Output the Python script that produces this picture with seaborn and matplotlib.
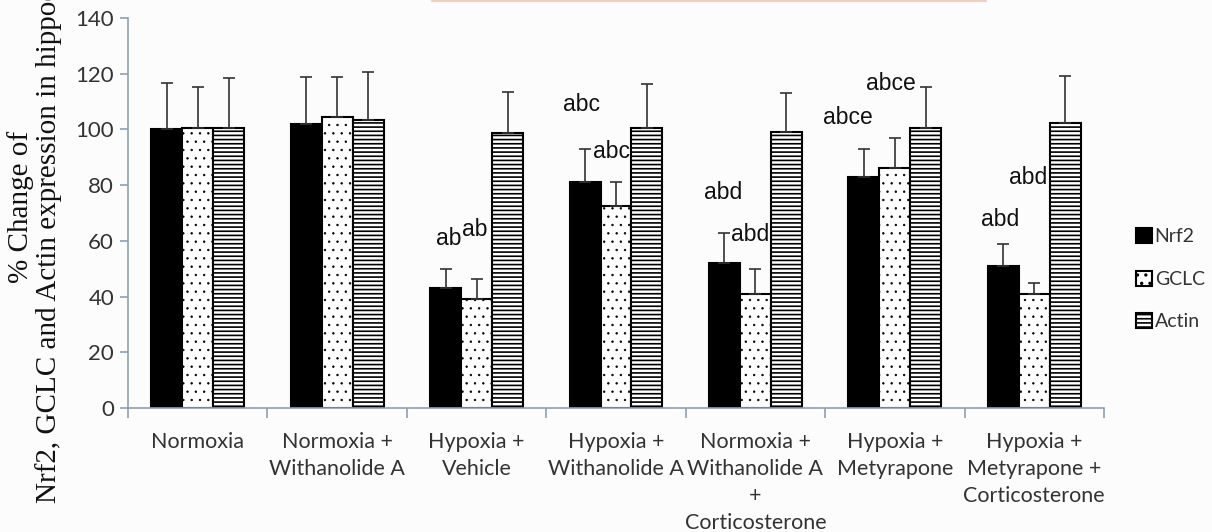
import numpy as np
import pandas as pd
import matplotlib
matplotlib.use('Agg')
import matplotlib.pyplot as plt
from matplotlib.lines import Line2D
import seaborn as sns

# ── data ─────────────────────────────────────────────────────
groups = ["Normoxia",
          "Normoxia +\nWithanolide A",
          "Hypoxia +\nVehicle",
          "Hypoxia +\nWithanolide A",
          "Normoxia +\nWithanolide A\n+\nCorticosterone",
          "Hypoxia +\nMetyrapone",
          "Hypoxia +\nMetyrapone +\nCorticosterone"]
markers = ["Nrf2", "GCLC", "Actin"]

nrf2 = [100, 102, 43, 81, 52, 83, 51]
nrf2_err = [16.5, 17, 7, 12, 11, 10, 8]
gclc = [100.4, 104.5, 39, 72.5, 41, 86, 41]
gclc_err = [14.7, 14.5, 7.3, 8.5, 9, 11, 4]
actin = [100.4, 103.4, 98.6, 100.4, 99.2, 100.6, 102.4]
actin_err = [18, 17.2, 14.7, 16, 14, 14.5, 16.8]

# significance letters: text, group, offset from group centre, y
sig_labels = [("ab", 2, -0.20, 61), ("ab", 2, -0.01, 64),
              ("abc", 3, -0.25, 109), ("abc", 3, -0.035, 92),
              ("abd", 4, -0.23, 77.4), ("abd", 4, -0.04, 62.3),
              ("abce", 5, -0.34, 104.3), ("abce", 5, -0.03, 116.5),
              ("abd", 6, -0.245, 67.5), ("abd", 6, -0.045, 82.7)]

values = {"Nrf2": nrf2, "GCLC": gclc, "Actin": actin}
errors = {"Nrf2": nrf2_err, "GCLC": gclc_err, "Actin": actin_err}

df = pd.DataFrame([{"group": g, "marker": m, "value": values[m][i]}
                   for m in markers for i, g in enumerate(groups)])

# ── style ────────────────────────────────────────────────────
sns.set_style("white")
plt.rcParams['font.family'] = ['Lato', 'DejaVu Sans']
plt.rcParams['hatch.linewidth'] = 1.2

axis_col = '#8fa0b0'
text_col = '#333333'

fig = plt.figure(figsize=(12.12, 5.32), dpi=100)
fig.patch.set_facecolor('#fcfcfd')
ax = fig.add_axes([128 / 1212, 1 - 408 / 532, 976 / 1212, 390 / 532])
ax.set_facecolor('#fcfcfd')

sns.barplot(data=df, x="group", y="value", hue="marker", order=groups,
            hue_order=markers, palette=['black', 'white', 'white'],
            width=0.667, gap=0, errorbar=None, edgecolor='black',
            linewidth=1.5, saturation=1, legend=False, ax=ax)

hatches = [None, '..', '----']
hatch_lw = [1.0, 0.5, 1.2]
for cont, h, m, hw in zip(ax.containers, hatches, markers, hatch_lw):
    xs, ys = [], []
    for p in cont.patches:
        if h:
            p.set_hatch(h)
            if hasattr(p, 'set_hatch_linewidth'):
                p.set_hatch_linewidth(hw)
        xs.append(p.get_x() + p.get_width() / 2)
        ys.append(p.get_height())
    err = np.array(errors[m])
    ax.errorbar(xs, ys, yerr=[np.zeros_like(err), err], fmt='none',
                ecolor='#333333', elinewidth=1.2, capsize=4, capthick=1.2,
                zorder=1)

for txt, gi, dx, y in sig_labels:
    ax.text(gi + dx, y, txt, ha='center', va='center', fontsize=16.5,
            family=['Liberation Sans', 'DejaVu Sans'], color='#111111')

# ── axes ─────────────────────────────────────────────────────
ax.set_xlim(-0.5, len(groups) - 0.5)
ax.set_ylim(0, 140)
ax.set_yticks(np.arange(0, 141, 20))
ax.set_xticks(np.arange(-0.5, len(groups), 1), minor=True)
ax.set_xlabel("")
ax.set_ylabel("% Change of\nNrf2, GCLC and Actin expression in hippocampus",
              family=['Liberation Serif', 'DejaVu Serif'], fontsize=21,
              color='#111111', linespacing=1.05)
ax.yaxis.set_label_coords(-0.068, 0.515)

for s in ['top', 'right']:
    ax.spines[s].set_visible(False)
for s in ['left', 'bottom']:
    ax.spines[s].set_color(axis_col)
    ax.spines[s].set_linewidth(1.2)

ax.tick_params(axis='y', left=True, length=6, width=1.2, color=axis_col,
               labelsize=16, labelcolor=text_col, pad=4)
ax.tick_params(axis='x', which='major', bottom=True, length=0,
               labelsize=15.5, labelcolor=text_col, pad=17)
ax.tick_params(axis='x', which='minor', bottom=True, length=7, width=1.2,
               color=axis_col)
for lab in ax.get_xticklabels():
    lab.set_linespacing(1.45)

ax.legend(ax.containers, markers, loc='center left',
          bbox_to_anchor=(1.025, 0.33), frameon=False, fontsize=14,
          handlelength=0.8, handleheight=0.8, handletextpad=0.15,
          labelspacing=1.3, borderaxespad=0, labelcolor=text_col)

# faint edge of the caption box cut off at the top
fig.add_artist(Line2D([432 / 1212, 986 / 1212], [0.998, 0.998],
                      color='#f3cdbf', lw=1.5))

fig.savefig('out.png', dpi=100, facecolor=fig.get_facecolor())
